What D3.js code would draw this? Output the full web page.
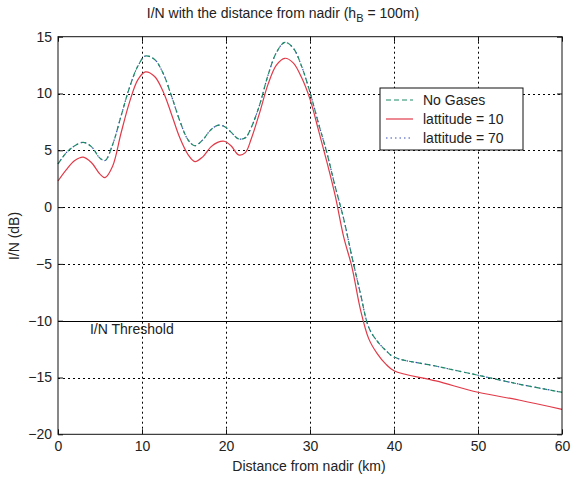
<!DOCTYPE html>
<html>
<head>
<meta charset="utf-8">
<script src="https://cdn.jsdelivr.net/npm/d3@7"></script>
<style>
  body { margin: 0; background: #fff; }
  svg { display: block; font-family: "Liberation Sans", Arial, sans-serif; }
  text { fill: #222; }
</style>
</head>
<body>
<svg id="chart" width="571" height="479" viewBox="0 0 571 479"></svg>
<script>
// distance from nadir (km)
const distance = [0, 1, 2, 3, 4, 5, 5.6, 6.5, 7.5, 8.5, 9.5, 10.4, 11.5, 12.5, 13.5, 14.5, 15.5, 16.3,
    17.2, 18.2, 19, 19.8, 20.6, 21.5, 22.3, 23, 24, 25, 26, 27, 28, 29, 30, 31, 32, 33, 34, 35, 36, 37,
    38, 39, 40, 45, 50, 55, 60];

// I/N (dB)
const noGases = [3.8, 4.8, 5.4, 5.7, 5.3, 4.3, 4.1, 5.5, 8.0, 10.5, 12.4, 13.3, 13.0, 11.8, 9.8, 7.6, 5.9, 5.4,
    5.9, 6.8, 7.2, 7.1, 6.6, 6.0, 6.1, 7.0, 9.0, 11.6, 13.6, 14.5, 14.0, 12.4, 10.1, 7.4, 4.8, 1.8, -1.0, -4.4, -7.6, -10.6,
    -11.8, -12.6, -13.2, -14.0, -14.8, -15.6, -16.3];
const lat10 = [2.3, 3.3, 4.1, 4.4, 3.9, 2.9, 2.6, 3.6, 6.5, 9.2, 11.2, 11.9, 11.5, 10.2, 8.2, 6.1, 4.6, 4.0,
    4.4, 5.3, 5.7, 5.8, 5.4, 4.6, 4.8, 6.0, 8.3, 10.8, 12.5, 13.1, 12.7, 11.4, 9.5, 6.8, 4.0, 1.0, -2.6, -5.3, -9.0, -11.6,
    -12.9, -13.8, -14.4, -15.3, -16.3, -17.0, -17.8];
const lat70 = [3.8, 4.8, 5.4, 5.7, 5.3, 4.3, 4.1, 5.5, 8.0, 10.5, 12.4, 13.3, 13.0, 11.8, 9.8, 7.6, 5.9, 5.4,
    5.9, 6.8, 7.2, 7.1, 6.6, 6.0, 6.1, 7.0, 9.0, 11.6, 13.6, 14.5, 14.0, 12.4, 10.1, 7.4, 4.8, 1.8, -1.0, -4.4, -7.6, -10.6,
    -11.8, -12.6, -13.2, -14.0, -14.8, -15.6, -16.3];

const xTicks = [0, 10, 20, 30, 40, 50, 60];
const yTicks = [-20, -15, -10, -5, 0, 5, 10, 15];
const threshold = -10;

const series = [
    { name: "latitude 70", label: "lattitude = 70", values: lat70, color: "#3a4fb8", dash: "1.5,3" },
    { name: "latitude 10", label: "lattitude = 10", values: lat10, color: "#e03a48", dash: null },
    { name: "no gases", label: "No Gases", values: noGases, color: "#1f8a66", dash: "5,3" }
];
const legendOrder = [series[2], series[1], series[0]];

const svg = d3.select("#chart");
const plotL = 58, plotR = 562, plotT = 36.7, plotB = 434.3;

const x = d3.scaleLinear().domain([0, 60]).range([plotL, plotR]);
const y = d3.scaleLinear().domain([-20, 15]).range([plotB, plotT]);

// grid
const grid = svg.append("g").attr("stroke", "#000").attr("stroke-width", 1)
    .attr("stroke-dasharray", "2,3");
grid.selectAll(".gx").data(xTicks.slice(1, -1)).enter().append("line")
    .attr("x1", d => Math.round(x(d)) + 0.5).attr("x2", d => Math.round(x(d)) + 0.5)
    .attr("y1", plotT).attr("y2", plotB);
grid.selectAll(".gy").data(yTicks.slice(1, -1).filter(d => d !== threshold)).enter().append("line")
    .attr("y1", d => Math.round(y(d)) + 0.5).attr("y2", d => Math.round(y(d)) + 0.5)
    .attr("x1", plotL).attr("x2", plotR);

// threshold line
svg.append("line")
    .attr("x1", plotL).attr("x2", plotR)
    .attr("y1", Math.round(y(threshold)) + 0.5).attr("y2", Math.round(y(threshold)) + 0.5)
    .attr("stroke", "#000").attr("stroke-width", 1);
svg.append("text")
    .attr("x", x(3.8)).attr("y", y(threshold) + 13)
    .attr("font-size", 14).text("I/N Threshold");

// lines
const line = d3.line()
    .x((d, i) => x(distance[i]))
    .y(d => y(d))
    .curve(d3.curveCatmullRom);

svg.append("g").selectAll("path").data(series).enter().append("path")
    .attr("d", d => line(d.values))
    .attr("fill", "none")
    .attr("stroke", d => d.color)
    .attr("stroke-width", 1.2)
    .attr("stroke-dasharray", d => d.dash);

// axes frame
svg.append("rect")
    .attr("x", plotL).attr("y", plotT).attr("width", plotR - plotL).attr("height", plotB - plotT)
    .attr("fill", "none").attr("stroke", "#111").attr("stroke-width", 1);

const xAxisB = d3.axisBottom(x).tickValues(xTicks).tickSizeInner(-5).tickSizeOuter(0).tickPadding(7);
const xAxisT = d3.axisTop(x).tickValues(xTicks).tickSizeInner(-5).tickSizeOuter(0).tickFormat("");
const yAxisL = d3.axisLeft(y).tickValues(yTicks).tickSizeInner(-5).tickSizeOuter(0).tickPadding(6);
const yAxisR = d3.axisRight(y).tickValues(yTicks).tickSizeInner(-5).tickSizeOuter(0).tickFormat("");

function styleAxis(g) {
    g.select(".domain").remove();
    g.selectAll("line").attr("stroke", "#111");
    g.selectAll("text").attr("font-size", 14).attr("fill", "#222")
        .attr("font-family", "Liberation Sans, Arial, sans-serif");
}
svg.append("g").attr("transform", `translate(0,${plotB})`).call(xAxisB).call(styleAxis);
svg.append("g").attr("transform", `translate(0,${plotT})`).call(xAxisT).call(styleAxis);
svg.append("g").attr("transform", `translate(${plotL},0)`).call(yAxisL).call(styleAxis);
svg.append("g").attr("transform", `translate(${plotR},0)`).call(yAxisR).call(styleAxis);

// labels
const title = svg.append("text")
    .attr("x", 283).attr("y", 18).attr("text-anchor", "middle").attr("font-size", 14);
title.append("tspan").text("I/N with the distance from nadir (h");
title.append("tspan").attr("font-size", 11).attr("dy", 4).text("B");
title.append("tspan").attr("dy", -4).text(" = 100m)");

svg.append("text")
    .attr("x", 309).attr("y", 471).attr("text-anchor", "middle").attr("font-size", 14)
    .text("Distance from nadir (km)");
svg.append("text")
    .attr("transform", "translate(19,236) rotate(-90)")
    .attr("text-anchor", "middle").attr("font-size", 14)
    .text("I/N (dB)");

// legend
const legend = svg.append("g").attr("transform", "translate(380,88)");
legend.append("rect").attr("width", 143).attr("height", 62)
    .attr("fill", "#fff").attr("stroke", "#111").attr("stroke-width", 1);
const items = legend.selectAll(".item").data(legendOrder).enter().append("g")
    .attr("transform", (d, i) => `translate(0,${12 + i * 19})`);
items.append("line").attr("x1", 6).attr("x2", 33)
    .attr("stroke", d => d.color).attr("stroke-width", 1.2)
    .attr("stroke-dasharray", d => d.dash);
items.append("text").attr("x", 43).attr("y", 5).attr("font-size", 14).text(d => d.label);
</script>
</body>
</html>
